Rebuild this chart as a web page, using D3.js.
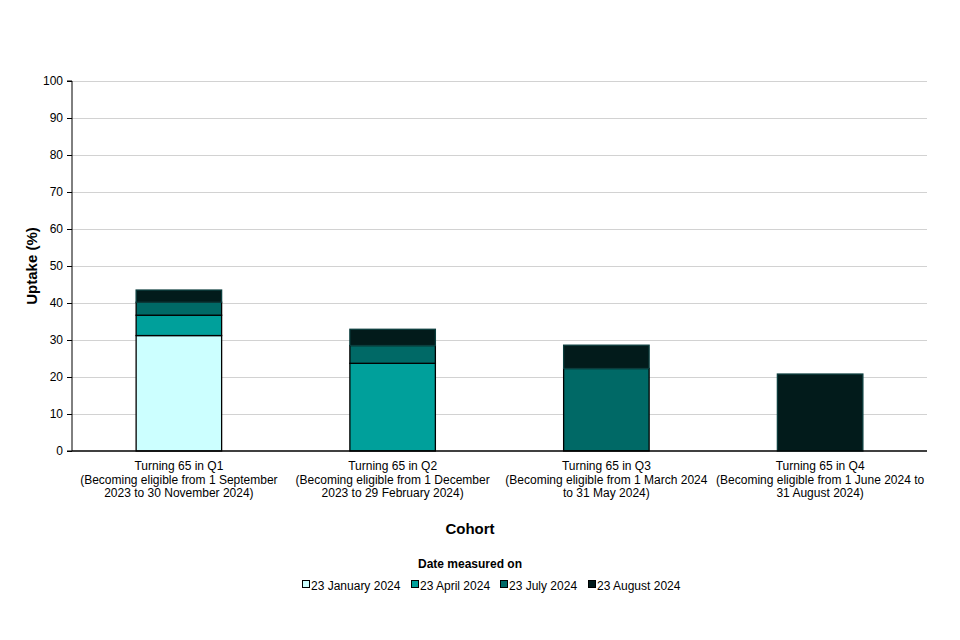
<!DOCTYPE html>
<html>
<head>
<meta charset="utf-8">
<script src="https://cdn.jsdelivr.net/npm/d3@7"></script>
<style>
  body { margin: 0; background: #fff; }
  text { font-family: "Liberation Sans", Arial, sans-serif; }
</style>
</head>
<body>
<svg id="chart" width="960" height="640"></svg>
<script>
// ---- data ----
const cohorts = ["Q1", "Q2", "Q3", "Q4"];
const cohortLabels = [
  ["Turning 65 in Q1", "(Becoming eligible from 1 September", "2023 to 30 November 2024)"],
  ["Turning 65 in Q2", "(Becoming eligible from 1 December", "2023 to 29 February 2024)"],
  ["Turning 65 in Q3", "(Becoming eligible from 1 March 2024", "to 31 May 2024)"],
  ["Turning 65 in Q4", "(Becoming eligible from 1 June 2024 to", "31 August 2024)"]
];
const dates = ["23 January 2024", "23 April 2024", "23 July 2024", "23 August 2024"];
// cumulative uptake (%) at each measurement date, per cohort (null = not yet eligible)
const uptakeJan = [31.2, null, null, null];
const uptakeApr = [36.7, 23.7, null, null];
const uptakeJul = [40.2, 28.5, 22.3, null];
const uptakeAug = [43.5, 32.9, 28.6, 20.8];
const yTicks = [0, 10, 20, 30, 40, 50, 60, 70, 80, 90, 100];

const seriesValues = [uptakeJan, uptakeApr, uptakeJul, uptakeAug];
const fills = ["#ccffff", "#00a09b", "#006966", "#021b1b"];
const strokes = ["#000", "#000", "#000", "#0b3d3d"];

const svg = d3.select("#chart");
const m = { left: 72, right: 927, top: 81, bottom: 451 };

const x = d3.scaleBand().domain(cohorts).range([m.left, m.right]).paddingInner(0.6).paddingOuter(0.3);
const y = d3.scaleLinear().domain([0, 100]).range([m.bottom, m.top]);

// gridlines
svg.append("g").selectAll("line").data(yTicks.filter(d => d > 0)).join("line")
  .attr("x1", m.left).attr("x2", m.right)
  .attr("y1", d => y(d) + 0.5).attr("y2", d => y(d) + 0.5)
  .attr("stroke", "#d2d2d2").attr("stroke-width", 1);

// segments: from previous cumulative value to current
const segs = [];
cohorts.forEach((c, i) => {
  let prev = 0;
  seriesValues.forEach((vals, s) => {
    const v = vals[i];
    if (v != null) {
      segs.push({ c, s, y0: prev, y1: v });
      prev = v;
    }
  });
});

svg.append("g").selectAll("rect").data(segs).join("rect")
  .attr("x", d => x(d.c))
  .attr("width", x.bandwidth())
  .attr("y", d => y(d.y1))
  .attr("height", d => y(d.y0) - y(d.y1))
  .attr("fill", d => fills[d.s])
  .attr("stroke", d => strokes[d.s])
  .attr("stroke-width", 1.3);

// y axis
const yAxis = d3.axisLeft(y).tickValues(yTicks).tickSize(5).tickPadding(4);
const gy = svg.append("g").attr("transform", `translate(${m.left},0)`).call(yAxis);
gy.select(".domain").attr("stroke", "#000").attr("d", `M-5,${m.top}H0V${m.bottom}H-5`);
gy.selectAll(".tick line").attr("stroke", "#000");
gy.selectAll(".tick text").attr("font-size", 12).attr("fill", "#000")
  .attr("font-family", "Liberation Sans, Arial, sans-serif");

// x axis
const xAxis = d3.axisBottom(x).tickSize(0).tickFormat("");
const gx = svg.append("g").attr("transform", `translate(0,${m.bottom})`).call(xAxis);
gx.select(".domain").attr("stroke", "#000").attr("stroke-width", 1.5).attr("d", `M${m.left},0H${m.right}`);

// category labels
const lab = svg.append("g").selectAll("text").data(cohorts).join("text")
  .attr("text-anchor", "middle")
  .attr("font-size", 12).attr("fill", "#000")
  .attr("transform", d => `translate(${x(d) + x.bandwidth() / 2},${m.bottom + 19})`);
lab.each(function(d, i) {
  d3.select(this).selectAll("tspan").data(cohortLabels[i]).join("tspan")
    .attr("x", 0).attr("dy", (t, j) => j === 0 ? 0 : 13.5).text(t => t);
});

// axis titles
svg.append("text").attr("x", 470).attr("y", 534).attr("text-anchor", "middle")
  .attr("font-size", 15).attr("font-weight", "bold").text("Cohort");
svg.append("text").attr("transform", "translate(37,266) rotate(-90)").attr("text-anchor", "middle")
  .attr("font-size", 15).attr("font-weight", "bold").text("Uptake (%)");

// legend
svg.append("text").attr("x", 470).attr("y", 568).attr("text-anchor", "middle")
  .attr("font-size", 12).attr("font-weight", "bold").text("Date measured on");
const legX = [302, 411, 500, 588];
const leg = svg.append("g").selectAll("g").data(dates).join("g")
  .attr("transform", (d, i) => `translate(${legX[i]},585)`);
leg.append("rect").attr("x", 0.5).attr("y", -4.5).attr("width", 7).attr("height", 7)
  .attr("fill", (d, i) => fills[i]).attr("stroke", "#000").attr("stroke-width", 1);
leg.append("text").attr("x", 9).attr("y", 4.5).attr("font-size", 12).text(d => d);
</script>
</body>
</html>
